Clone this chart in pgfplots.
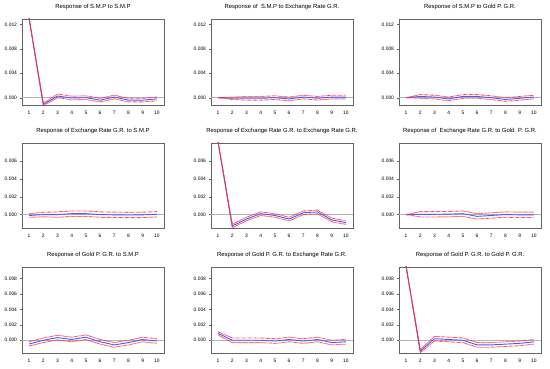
\documentclass[border=0pt]{standalone}
\usepackage{fontspec}
\setmainfont{Liberation Sans}
\usepackage{pgfplots}
\usepackage{pgfplotstable}
\pgfplotsset{compat=1.18}

\definecolor{irfblue}{RGB}{70,90,255}
\definecolor{irfred}{RGB}{255,40,70}
\definecolor{framegray}{RGB}{100,100,100}

\pgfplotstableread{
x m lo hi
1 0.0130 0.0130 0.0130
2 -0.0011 -0.0013 -0.0009
3 0.00027 0.0000 0.0006
4 -0.00005 -0.00035 0.00025
5 0.0000 -0.0003 0.0003
6 -0.0004 -0.0007 -0.0001
7 0.0001 -0.0002 0.0004
8 -0.0004 -0.0007 -0.0001
9 -0.0004 -0.0007 -0.0001
10 -0.0002 -0.0005 0.0001
}\tA
\pgfplotstableread{
x m lo hi
1 0 0 0
2 -0.0001 -0.0003 0.0001
3 -0.0001 -0.0004 0.0002
4 -0.0001 -0.0004 0.0002
5 0.0000 -0.0003 0.0003
6 -0.0002 -0.0005 0.0001
7 0.0001 -0.0002 0.0004
8 -0.0001 -0.0004 0.0002
9 0.0001 -0.0002 0.0004
10 0.0001 -0.0002 0.0004
}\tB
\pgfplotstableread{
x m lo hi
1 0 0 0
2 0.0002 -0.0001 0.0005
3 0.0001 -0.0002 0.0004
4 -0.0002 -0.0005 0.0001
5 0.0002 -0.0001 0.0005
6 0.0002 -0.0001 0.0005
7 0.0000 -0.0003 0.0003
8 -0.0003 -0.0006 0.0000
9 -0.0001 -0.0004 0.0002
10 0.0001 -0.0002 0.0004
}\tC
\pgfplotstableread{
x m lo hi
1 -0.0001 -0.0003 0.0001
2 0.0000 -0.00025 0.00025
3 0.0000 -0.0003 0.0003
4 0.0001 -0.0002 0.0004
5 0.0001 -0.0002 0.0004
6 0.0000 -0.0003 0.0003
7 -0.00003 -0.00033 0.00027
8 -0.00005 -0.00035 0.00025
9 -0.00003 -0.00033 0.00027
10 0.00003 -0.00027 0.00033
}\tD
\pgfplotstableread{
x m lo hi
1 0.0081 0.0081 0.0081
2 -0.00127 -0.00147 -0.00107
3 -0.0005 -0.0007 -0.0003
4 0.0001 -0.0001 0.0003
5 -0.0001 -0.0003 0.0001
6 -0.0005 -0.0007 -0.0003
7 0.0002 0.0000 0.0004
8 0.0003 0.0001 0.0005
9 -0.0006 -0.0008 -0.0004
10 -0.0009 -0.0011 -0.0007
}\tE
\pgfplotstableread{
x m lo hi
1 0 0 0
2 0.00003 -0.00027 0.00033
3 0.00003 -0.00027 0.00033
4 0.00005 -0.00025 0.00035
5 0.0001 -0.0002 0.0004
6 -0.0002 -0.0005 0.0001
7 -0.0001 -0.0004 0.0002
8 0.0000 -0.0003 0.0003
9 -0.00003 -0.00033 0.00027
10 -0.00003 -0.00033 0.00027
}\tF
\pgfplotstableread{
x m lo hi
1 -0.00048 -0.00075 -0.0002
2 0.0000 -0.0003 0.0003
3 0.00035 0.00005 0.00065
4 0.0001 -0.0002 0.0004
5 0.0004 0.0001 0.0007
6 -0.0002 -0.0005 0.0001
7 -0.0006 -0.0009 -0.0003
8 -0.0003 -0.0006 0.0000
9 0.0001 -0.0002 0.0004
10 -0.0001 -0.0004 0.0002
}\tG
\pgfplotstableread{
x m lo hi
1 0.0009 0.0007 0.0011
2 0.0000 -0.0003 0.0003
3 0.0000 -0.0003 0.0003
4 0.0000 -0.0003 0.0003
5 -0.0001 -0.0004 0.0002
6 0.0001 -0.0002 0.0004
7 -0.0001 -0.0004 0.0002
8 0.0001 -0.0002 0.0004
9 -0.0003 -0.0006 0.0000
10 -0.0002 -0.0005 0.0001
}\tH
\pgfplotstableread{
x m lo hi
1 0.0096 0.0096 0.0096
2 -0.0014 -0.0016 -0.0012
3 0.0002 -0.0001 0.0005
4 0.0001 -0.0002 0.0004
5 0.0000 -0.0003 0.0003
6 -0.0006 -0.0009 -0.0003
7 -0.0006 -0.0009 -0.0003
8 -0.0005 -0.0008 -0.0002
9 -0.0004 -0.0007 -0.0001
10 -0.0002 -0.0005 0.0001
}\tI

\pgfplotsset{irf/.style={
  scale only axis, width=142pt,
  xmin=0.5, xmax=10.5,
  xtick={1,...,10}, minor xtick={1.5,2.5,...,9.5},
  major tick length=2pt, minor tick length=2pt,
  tick align=outside, xtick style={draw=none},
  minor tick style={draw=framegray},
  ytick pos=left, xtick pos=bottom,
  axis line style={framegray, line width=0.6pt},
  ytick style={framegray},
  scaled y ticks=false,
  /pgf/number format/assume math mode=true,
  ticklabel style={font=\fontsize{4.9}{5}\selectfont},
  xticklabel style={yshift=-0.5pt},
  yticklabel style={xshift=0.5pt, /pgf/number format/.cd, fixed, fixed zerofill, precision=3},
  title style={at={(0.5,1)}, anchor=base, yshift=4.5pt, font=\fontsize{5.9}{6}\selectfont},
  anchor=south west,
}}

\newcommand{\irf}[8]{%
\begin{axis}[irf, at={(#1pt,#2pt)}, height=#3pt, ymin=#4, ymax=#5, ytick={#6}, title={#7}]
\addplot[gray!60, line width=0.7pt] coordinates {(0.5,0) (10.5,0)};
\addplot[irfblue, line width=0.9pt] table[x=x,y=m] {#8};
\addplot[irfred, dash pattern=on 0.6pt off 0.6pt, line width=0.9pt] table[x=x,y=hi] {#8};
\addplot[irfred, dash pattern=on 0.6pt off 0.6pt, line width=0.9pt] table[x=x,y=lo] {#8};
\end{axis}}

\begin{document}
\begin{tikzpicture}
\path[use as bounding box] (0,0) rectangle (550pt,369pt);
\irf{22}{264}{86}{-0.0012}{0.0129}{0,0.004,0.008,0.012}{Response of S.M.P to S.M.P}{\tA}
\irf{211}{264}{86}{-0.0012}{0.0129}{0,0.004,0.008,0.012}{Response of \ S.M.P to Exchange Rate G.R.}{\tB}
\irf{399}{264}{86}{-0.0012}{0.0129}{0,0.004,0.008,0.012}{Response of S.M.P to Gold P. G.R.}{\tC}
\irf{22}{141}{85}{-0.0015}{0.0080}{0,0.002,0.004,0.006}{Response of Exchange Rate G.R. to S.M.P}{\tD}
\irf{211}{141}{85}{-0.0015}{0.0080}{0,0.002,0.004,0.006}{Response of Exchange Rate G.R. to Exchange Rate G.R.}{\tE}
\irf{399}{141}{85}{-0.0015}{0.0080}{0,0.002,0.004,0.006}{Response of \ Exchange Rate G.R. to Gold. P. G.R.}{\tF}
\irf{22}{16}{86}{-0.00165}{0.0095}{0,0.002,0.004,0.006,0.008}{Response of Gold P. G.R. to S.M.P}{\tG}
\irf{211}{16}{86}{-0.00165}{0.0095}{0,0.002,0.004,0.006,0.008}{Response of Gold P. G.R. to Exchange Rate G.R.}{\tH}
\irf{399}{16}{86}{-0.00165}{0.0095}{0,0.002,0.004,0.006,0.008}{Response of Gold P. G.R. to Gold P. G.R.}{\tI}
\end{tikzpicture}
\end{document}
